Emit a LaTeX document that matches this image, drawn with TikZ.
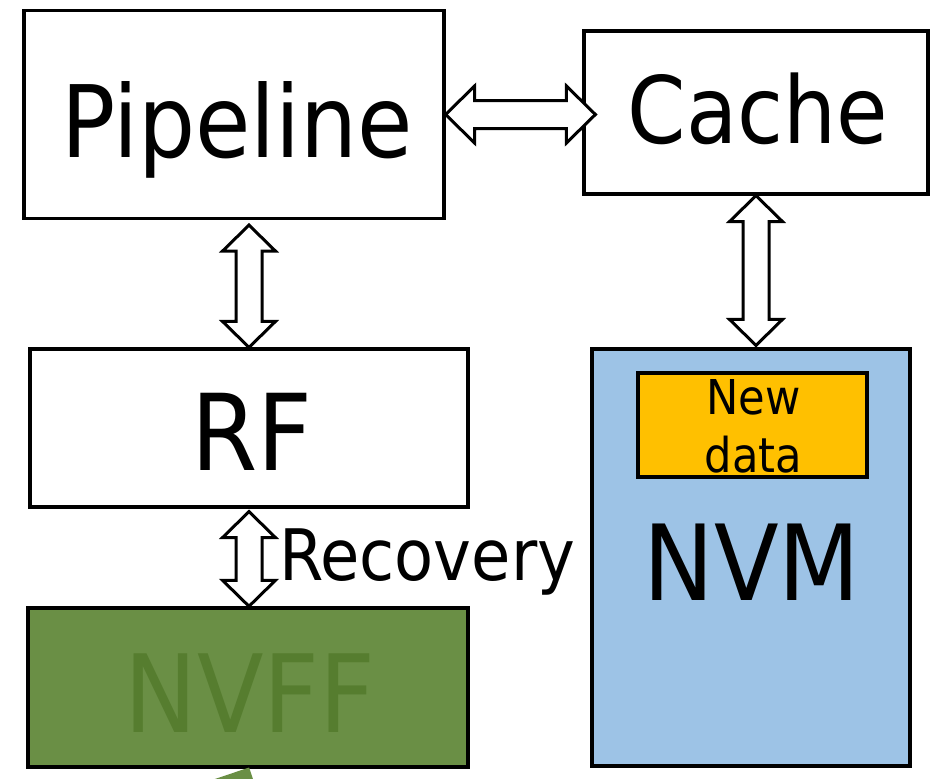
\documentclass[tikz,border=0pt]{standalone}
\usepackage{fontspec}
\setmainfont{DejaVu Sans Condensed}
\usetikzlibrary{calc}

\definecolor{nvmblue}{HTML}{9DC3E6}
\definecolor{newgold}{HTML}{FFC000}
\definecolor{ffgreen}{HTML}{6A8F45}
\definecolor{ffgreentext}{HTML}{567D2F}

\tikzset{
  box/.style={draw=black, line width=3.2pt, fill=white, inner sep=0pt},
  blockarrow/.style={draw=black, line width=3pt, fill=white, line join=miter},
  lbl/.style={anchor=base, inner sep=0pt},
}

% vertical hollow double arrow from tip #1 (top) to tip #2 (bottom)
\newcommand\vdblarrow[2]{%
  \draw[blockarrow] let \p1=(#1), \p2=(#2) in
    (\p1) -- ++(26.5pt,-26pt) -- ++(-13.5pt,0pt)
    -- (\x1+13pt,\y2+26pt) -- ++(13.5pt,0pt) -- (\x1,\y2)
    -- ++(-26.5pt,26pt) -- ++(13.5pt,0pt)
    -- (\x1-13pt,\y1-26pt) -- ++(-13.5pt,0pt) -- cycle;}
% horizontal hollow double arrow from tip #1 (left) to tip #2 (right)
\newcommand\hdblarrow[2]{%
  \draw[blockarrow] let \p1=(#1), \p2=(#2) in
    (\p1) -- ++(29pt,28.5pt) -- ++(0pt,-14.5pt)
    -- (\x2-29pt,\y1+14pt) -- ++(0pt,14.5pt) -- (\x2,\y1)
    -- ++(-29pt,-28.5pt) -- ++(0pt,14.5pt)
    -- (\x1+29pt,\y1-14pt) -- ++(0pt,-14.5pt) -- cycle;}

\begin{document}
\begin{tikzpicture}[x=1pt, y=-1pt]
  \useasboundingbox (0,0) rectangle (935,779);
  \clip (0,0) rectangle (935,779);

  % far end of the green stroke leaving the NVFF block
  \coordinate (ffout) at (192,793);

  % boxes
  \node[box, minimum width=420, minimum height=208] (pipe) at (234,114.5) {};
  \node[box, minimum width=344, minimum height=163] (cache) at (756,112.5) {};
  \node[box, minimum width=438, minimum height=158] (rf) at (249,428) {};
  \node[box, fill=nvmblue, minimum width=318, minimum height=417] (nvm) at (751,557.5) {};
  \node[box, fill=newgold, line width=3.4pt, minimum width=229, minimum height=104] (newd) at (752.5,425) {};
  \node[box, fill=ffgreen, line width=3.4pt, minimum width=440, minimum height=159] (nvff) at (248,687.5) {};
  \draw[ffgreen, line width=12pt] ($(nvff.south)+(3,4.5)$) -- (ffout);

  % labels
  \node[lbl, font=\fontsize{100}{110}\selectfont] (tpipe) at ($(pipe.center)+(3,42.5)$) {Pipeline};
  \node[lbl, font=\fontsize{93}{100}\selectfont] (tcache) at ($(cache.center)+(2,31)$) {Cache};
  \node[lbl, font=\fontsize{106}{110}\selectfont] (trf) at ($(rf.center)+(3,42)$) {RF};
  \node[lbl, font=\fontsize{105}{110}\selectfont] (tnvm) at ($(nvm.center)+(1,42.5)$) {NVM};
  \node[lbl, font=\fontsize{108}{110}\selectfont, text=ffgreentext] (tnvff) at ($(nvff.center)+(2,44.5)$) {NVFF};
  \node[lbl, font=\fontsize{48}{58}\selectfont, align=center, anchor=north] (tnew) at ($(newd.north)+(1,8)$) {New\\data};

  % connectors
  \coordinate (pcL) at (pipe.east);
  \coordinate (pcR) at ($(pipe.east -| cache.west)+(13,0)$);
  \hdblarrow{pcL}{pcR}

  \coordinate (prT) at ($(rf.north |- pipe.south)+(0,5)$);
  \vdblarrow{prT}{rf.north}

  \coordinate (cnB) at ($(cache.south |- nvm.north)+(0,-2)$);
  \vdblarrow{cache.south}{cnB}

  \coordinate (rfT) at ($(rf.south)+(0,3)$);
  \coordinate (rfB) at (rf.south |- nvff.north);
  \vdblarrow{rfT}{rfB}
  \node[lbl, anchor=base west, font=\fontsize{71}{80}\selectfont] (trec) at (279,580) {Recovery};
\end{tikzpicture}
\end{document}
